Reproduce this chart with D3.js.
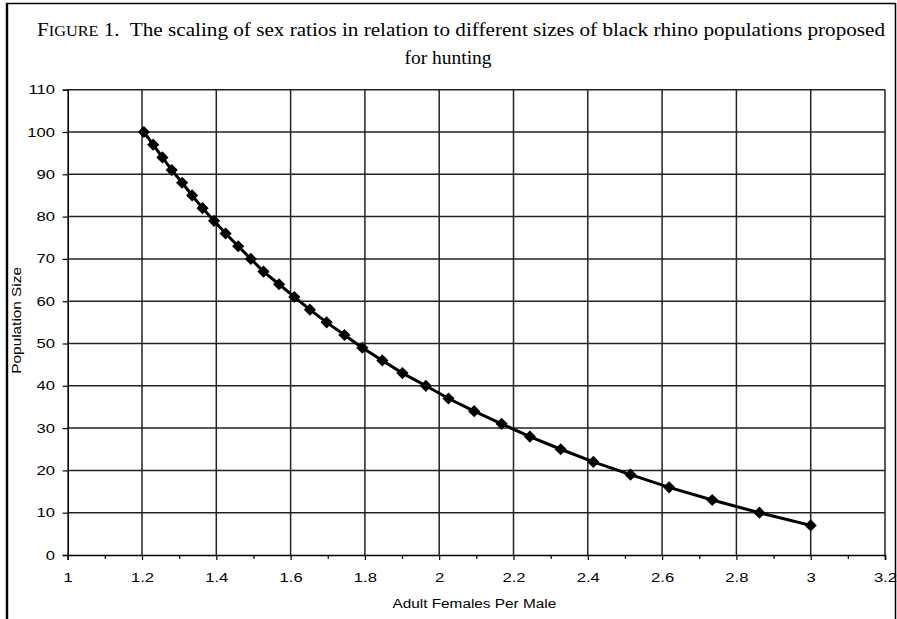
<!DOCTYPE html>
<html lang="en">
<head>
    <meta charset="UTF-8">
    <title>Sex ratio vs population size</title>
    <style>
        body { margin: 0; background: #fff; }
        svg text { fill: #000; }
        .tick text { font-family: "Liberation Sans", Arial, sans-serif; font-size: 12.5px; }
        .grid line { stroke: #222; stroke-width: 1.5; }
    </style>
    <script src="https://d3js.org/d3.v7.min.js"></script>
</head>
<body>
    <script>
        // adult females per male
        let ratios = [1.205, 1.23, 1.255, 1.28, 1.308, 1.335, 1.363, 1.394, 1.425, 1.459,
                      1.493, 1.527, 1.569, 1.61, 1.652, 1.697, 1.745, 1.793, 1.847, 1.901,
                      1.964, 2.025, 2.094, 2.168, 2.244, 2.327, 2.415, 2.515, 2.619, 2.735,
                      2.862, 3.0];
        // population size
        let popSizes = [100, 97, 94, 91, 88, 85, 82, 79, 76, 73,
                        70, 67, 64, 61, 58, 55, 52, 49, 46, 43,
                        40, 37, 34, 31, 28, 25, 22, 19, 16, 13,
                        10, 7];
        let xTicks = [1, 1.2, 1.4, 1.6, 1.8, 2, 2.2, 2.4, 2.6, 2.8, 3, 3.2];
        let xMinor = [1.1, 1.3, 1.5, 1.7, 1.9, 2.1, 2.3, 2.5, 2.7, 2.9, 3.1];
        let yTicks = [0, 10, 20, 30, 40, 50, 60, 70, 80, 90, 100, 110];

        let W = 897, H = 619;
        let sx = 1.33; // the chart's sans text is stretched sideways
        let margin = {top: 89.7, left: 67.7},
            width = 885 - margin.left,
            height = 555 - margin.top;

        let root = d3.select("body").append("svg")
            .attr("width", W)
            .attr("height", H);

        // page frame
        root.append("line").attr("x1", 7).attr("x2", 7).attr("y1", 3).attr("y2", H)
            .attr("stroke", "#000").attr("stroke-width", 2.4);
        root.append("line").attr("x1", 6).attr("x2", 895.5).attr("y1", 3.5).attr("y2", 3.5)
            .attr("stroke", "#000").attr("stroke-width", 1.5);
        root.append("line").attr("x1", 895.5).attr("x2", 895.5).attr("y1", 3).attr("y2", H)
            .attr("stroke", "#000").attr("stroke-width", 1.5);

        // title
        let title = root.append("text")
            .attr("x", 37).attr("y", 36)
            .attr("textLength", 848)
            .attr("lengthAdjust", "spacingAndGlyphs")
            .style("white-space", "pre")
            .style("font-family", "'Liberation Serif', 'Times New Roman', serif")
            .style("font-size", "19.5px");
        title.append("tspan").text("F");
        title.append("tspan").style("font-size", "15px").text("IGURE");
        title.append("tspan").text(" 1.  The scaling of sex ratios in relation to different sizes of black rhino populations proposed");
        root.append("text")
            .attr("x", 448).attr("y", 64)
            .attr("text-anchor", "middle")
            .style("font-family", "'Liberation Serif', 'Times New Roman', serif")
            .style("font-size", "19.5px")
            .text("for hunting");

        let svg = root.append("g")
            .attr("transform", "translate(" + margin.left + "," + margin.top + ")");

        let x = d3.scaleLinear().domain([1, 3.2]).range([0, width]);
        let y = d3.scaleLinear().domain([0, 110]).range([height, 0]);

        // grid
        svg.append("g").attr("class", "grid")
            .selectAll("line").data(yTicks.slice(1)).enter().append("line")
            .attr("x1", 0).attr("x2", width)
            .attr("y1", d => y(d)).attr("y2", d => y(d));
        svg.append("g").attr("class", "grid")
            .selectAll("line").data(xTicks.slice(1)).enter().append("line")
            .attr("y1", 0).attr("y2", height)
            .attr("x1", d => x(d)).attr("x2", d => x(d));

        // axes
        let xAxis = svg.append("g")
            .attr("transform", "translate(0," + height + ")")
            .call(d3.axisBottom(x).tickValues(xTicks).tickSize(5).tickPadding(13).tickFormat(d3.format("")));
        svg.append("g")
            .attr("transform", "translate(0," + height + ")")
            .call(d3.axisBottom(x).tickValues(xMinor).tickSize(4).tickFormat(""))
            .select(".domain").remove();
        let yAxis = svg.append("g")
            .call(d3.axisLeft(y).tickValues(yTicks).tickSize(5).tickPadding(4.5));
        svg.selectAll(".domain").attr("stroke", "#000").attr("stroke-width", 1.6);
        svg.selectAll(".tick line").attr("stroke", "#000").attr("stroke-width", 1.2);
        svg.selectAll(".tick text").attr("transform", "scale(" + sx + ",1)");

        // series
        let pts = ratios.map((r, i) => ({r: r, n: popSizes[i]}));
        svg.append("path")
            .datum(pts)
            .attr("fill", "none")
            .attr("stroke", "#000")
            .attr("stroke-width", 3)
            .attr("d", d3.line().x(d => x(d.r)).y(d => y(d.n)));

        let marker = d3.symbol().type(d3.symbolSquare).size(74);
        svg.selectAll(".pt").data(pts).enter().append("path")
            .attr("class", "pt")
            .attr("d", marker)
            .attr("fill", "#000")
            .attr("transform", d => "translate(" + x(d.r) + "," + y(d.n) + ") rotate(45)");

        // axis titles
        root.append("text")
            .attr("transform", "translate(21," + (margin.top + height / 2 - 2) + ") rotate(-90) scale(1.28,1)")
            .attr("text-anchor", "middle")
            .style("font-family", "'Liberation Sans', Arial, sans-serif")
            .style("font-size", "12px")
            .text("Population Size");
        root.append("text")
            .attr("transform", "translate(" + (margin.left + width / 2 - 2) + ",608) scale(1.28,1)")
            .attr("text-anchor", "middle")
            .style("font-family", "'Liberation Sans', Arial, sans-serif")
            .style("font-size", "12px")
            .text("Adult Females Per Male");
    </script>
</body>
</html>
